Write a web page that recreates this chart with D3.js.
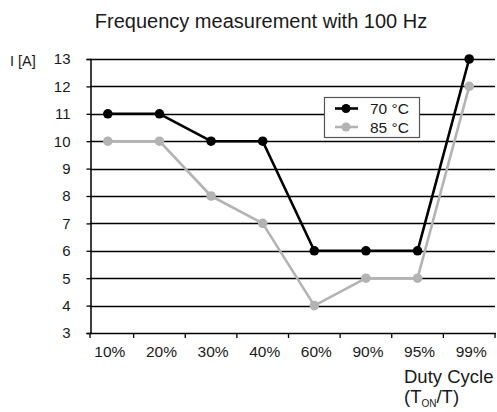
<!DOCTYPE html>
<html><head><meta charset="utf-8">
<script src="https://cdn.jsdelivr.net/npm/d3@7/dist/d3.min.js"></script>
<style>body{margin:0;background:#fff}svg{display:block;font-family:"Liberation Sans",Arial,sans-serif}</style>
</head><body><svg id="c" width="497" height="412"></svg>
<script>
const categories = ["10%","20%","30%","40%","60%","90%","95%","99%"];
const series70 = [11,11,10,10,6,6,6,13];
const series85 = [10,10,8,7,4,5,5,12];
const yTicks = [3,4,5,6,7,8,9,10,11,12,13];
const seriesNames = ["70 °C","85 °C"];
const colors = ["#000000","#b3b3b3"];

const svg = d3.select("#c");
const x = d3.scaleBand().domain(categories).range([82,495]);
const y = d3.scaleLinear().domain([3,13]).range([333,59]);
const left = 90;
const txt = "#1a1a1a";

// title
svg.append("text").attr("x",261).attr("y",28).attr("text-anchor","middle")
  .attr("font-size",20).attr("fill",txt).text("Frequency measurement with 100 Hz");

// gridlines
svg.append("g").selectAll("line").data(yTicks.filter(d=>d>3)).join("line")
  .attr("x1",left).attr("x2",495).attr("y1",d=>Math.round(y(d))+0.5).attr("y2",d=>Math.round(y(d))+0.5)
  .attr("stroke","#000").attr("stroke-width",1.3);

// y axis
const ya = svg.append("g").attr("transform",`translate(${left+0.5},0)`)
  .call(d3.axisLeft(y).tickValues(yTicks).tickSize(4).tickPadding(16));
ya.select(".domain").attr("stroke","#000").attr("stroke-width",1.5);
ya.selectAll(".tick line").attr("stroke","#000").attr("stroke-width",1.3);
ya.selectAll(".tick text").attr("font-size",15).attr("fill",txt).attr("font-family","Liberation Sans, Arial, sans-serif");

// x axis
const xa = svg.append("g").attr("transform",`translate(0,${333.5})`)
  .call(d3.axisBottom(x).tickSize(0).tickPadding(12));
xa.select(".domain").remove();
xa.selectAll(".tick text").attr("font-size",15.5).attr("fill",txt).attr("dx",2).attr("font-family","Liberation Sans, Arial, sans-serif");
svg.append("line").attr("x1",left).attr("x2",496).attr("y1",333.5).attr("y2",333.5).attr("stroke","#000").attr("stroke-width",1.5);
const xt = categories.slice(1).map(c=>x(c)).concat([x(categories[categories.length-1])+x.bandwidth()]);
svg.append("g").selectAll("line").data([left].concat(xt)).join("line")
  .attr("x1",d=>d).attr("x2",d=>d).attr("y1",333).attr("y2",338).attr("stroke","#000").attr("stroke-width",1.3);

// axis titles
svg.append("text").attr("x",10).attr("y",66).attr("font-size",14.5).attr("fill",txt).text("I [A]");
svg.append("text").attr("x",404).attr("y",383).attr("font-size",18.5).attr("fill",txt).text("Duty Cycle");
const t2 = svg.append("text").attr("x",404).attr("y",403).attr("font-size",18.5).attr("fill",txt);
t2.append("tspan").text("(T");
t2.append("tspan").attr("font-size",10).attr("dy",4).text("ON");
t2.append("tspan").attr("dy",-4).text("/T)");

// lines
const cx = d => x(d)+x.bandwidth()/2;
const data = [series70, series85];
const line = d3.line().x((d,i)=>cx(categories[i])).y(d=>y(d));
[1,0].forEach(k=>{
  svg.append("path").attr("d",line(data[k])).attr("fill","none").attr("stroke",colors[k]).attr("stroke-width",2.6).attr("stroke-linejoin","round");
  svg.append("g").selectAll("circle").data(data[k]).join("circle")
    .attr("cx",(d,i)=>cx(categories[i])).attr("cy",d=>y(d)).attr("r",4.8).attr("fill",colors[k]);
});

// legend
const lg = svg.append("g");
lg.append("rect").attr("x",324.5).attr("y",97.5).attr("width",95).attr("height",40).attr("fill","#fff").attr("stroke","#555").attr("stroke-width",1.2);
seriesNames.forEach((n,i)=>{
  const yy = 108.5 + i*18.5;
  lg.append("line").attr("x1",335).attr("x2",358).attr("y1",yy).attr("y2",yy).attr("stroke",colors[i]).attr("stroke-width",2.6);
  lg.append("circle").attr("cx",346).attr("cy",yy).attr("r",4.5).attr("fill",colors[i]);
  lg.append("text").attr("x",370).attr("y",yy+5.5).attr("font-size",15.5).attr("fill",txt).text(n);
});
</script></body></html>
